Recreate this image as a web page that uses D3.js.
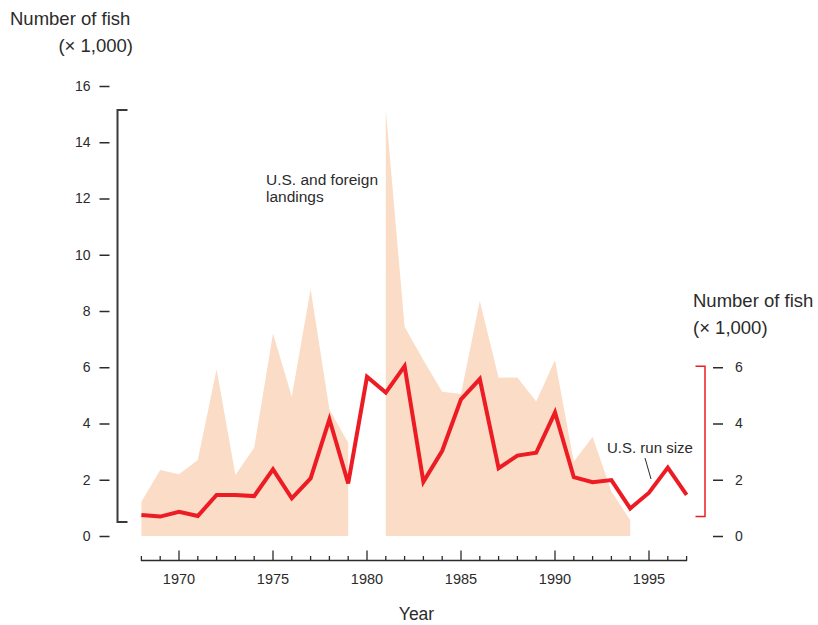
<!DOCTYPE html>
<html>
<head>
<meta charset="utf-8">
<script src="https://cdn.jsdelivr.net/npm/d3@7"></script>
<style>
  html, body { margin: 0; padding: 0; background: #fff; }
  svg { display: block; font-family: "Liberation Sans", Arial, Helvetica, sans-serif; }
  text { fill: #2b2b2b; }
</style>
</head>
<body>
<svg id="chart" width="818" height="625"></svg>
<script>
// ---- data (thousands of fish) ----
const years = d3.range(1968, 1998);
const landingYears = d3.range(1968, 1995);
const landings = [1.22, 2.35, 2.2, 2.7, 5.93, 2.17, 3.14, 7.2, 4.95, 8.78, 4.5, 3.32,
                  null, 15.15, 7.44, 6.25, 5.13, 5.05, 8.36, 5.63, 5.64, 4.78, 6.26, 2.64, 3.53, 1.58, 0.57];
const runSize = [0.75, 0.69, 0.86, 0.71, 1.46, 1.46, 1.42, 2.37, 1.34, 2.05, 4.15, 1.87,
                 5.66, 5.1, 6.04, 1.93, 3.03, 4.86, 5.58, 2.41, 2.86, 2.96, 4.39, 2.09, 1.91, 1.99, 0.98, 1.54, 2.43, 1.46];
const leftTicks = [0, 2, 4, 6, 8, 10, 12, 14, 16];
const rightTicks = [0, 2, 4, 6];
const yearLabels = [1970, 1975, 1980, 1985, 1990, 1995];

const svg = d3.select("#chart");
const x = d3.scaleLinear().domain([1968, 1997]).range([141.4, 686.6]);
const y = d3.scaleLinear().domain([0, 16]).range([536, 86]);

const landData = landingYears.map((yr, i) => ({ yr, v: landings[i] }));
const runData = years.map((yr, i) => ({ yr, v: runSize[i] }));

// area
svg.append("path")
  .datum(landData)
  .attr("fill", "#fbdcc6")
  .attr("d", d3.area()
    .defined(d => d.v != null)
    .x(d => x(d.yr))
    .y0(y(0))
    .y1(d => y(d.v)));

// line
svg.append("path")
  .datum(runData)
  .attr("fill", "none")
  .attr("stroke", "#ed1c24")
  .attr("stroke-width", 4)
  .attr("stroke-linejoin", "miter")
  .attr("d", d3.line().x(d => x(d.yr)).y(d => y(d.v)));

// left axis
const la = svg.append("g").attr("transform", "translate(109.5,0)")
  .call(d3.axisLeft(y).tickValues(leftTicks).tickSize(10).tickPadding(9).tickFormat(d3.format("d")));
la.select(".domain").remove();
la.selectAll(".tick line").attr("stroke", "#2b2b2b").attr("stroke-width", 1.5);
la.selectAll(".tick text").attr("font-size", 14).attr("fill", "#2b2b2b").attr("font-family", null);

// right axis
const ra = svg.append("g").attr("transform", "translate(713,0)")
  .call(d3.axisRight(y).tickValues(rightTicks).tickSize(10).tickPadding(12).tickFormat(d3.format("d")));
ra.select(".domain").remove();
ra.selectAll(".tick line").attr("stroke", "#2b2b2b").attr("stroke-width", 1.5);
ra.selectAll(".tick text").attr("font-size", 14).attr("fill", "#2b2b2b").attr("font-family", null);

// left bracket (landings range)
const lTop = y(d3.max(landings)), lBot = y(d3.min(landings.filter(v => v != null))) + 2;
svg.append("path")
  .attr("fill", "none").attr("stroke", "#3a3a3a").attr("stroke-width", 2)
  .attr("d", `M127.5,${lTop}H117.5V${lBot}H127.5`);

// right bracket (run size range)
const rTop = y(d3.max(runSize)), rBot = y(d3.min(runSize));
svg.append("path")
  .attr("fill", "none").attr("stroke", "#ed1c24").attr("stroke-width", 1.5)
  .attr("d", `M695.5,${rTop}H705V${rBot}H695.5`);

// x axis
const xa = svg.append("g");
const baseY = 560.5;
xa.append("line").attr("x1", x(1968) - 0.5).attr("x2", x(1997) + 0.5)
  .attr("y1", baseY).attr("y2", baseY).attr("stroke", "#2b2b2b").attr("stroke-width", 1.3);
xa.selectAll("line.tk").data(years).join("line").attr("class", "tk")
  .attr("x1", d => x(d)).attr("x2", d => x(d))
  .attr("y1", baseY).attr("y2", d => d % 5 === 0 ? baseY - 10 : baseY - 4.5)
  .attr("stroke", "#2b2b2b").attr("stroke-width", 1.3);
xa.selectAll("text").data(yearLabels).join("text")
  .attr("x", d => x(d)).attr("y", 584).attr("text-anchor", "middle")
  .attr("font-size", 14.5).text(d => d);

// titles
svg.append("text").attr("x", 10).attr("y", 25).attr("font-size", 18.5).text("Number of fish");
svg.append("text").attr("x", 133).attr("y", 52).attr("text-anchor", "end").attr("font-size", 18.5).text("(× 1,000)");
svg.append("text").attr("x", 693).attr("y", 307).attr("font-size", 18.5).text("Number of fish");
svg.append("text").attr("x", 693).attr("y", 334).attr("font-size", 18.5).text("(× 1,000)");
svg.append("text").attr("x", 416.5).attr("y", 620).attr("text-anchor", "middle").attr("font-size", 17.5).text("Year");

// annotations
svg.append("text").attr("x", 266).attr("y", 185).attr("font-size", 15.5).text("U.S. and foreign");
svg.append("text").attr("x", 266).attr("y", 202).attr("font-size", 15.5).text("landings");
svg.append("text").attr("x", 607).attr("y", 453).attr("font-size", 15).text("U.S. run size");
svg.append("line").attr("x1", 645).attr("y1", 458).attr("x2", 651).attr("y2", 479)
  .attr("stroke", "#2b2b2b").attr("stroke-width", 1);
</script>
</body>
</html>
